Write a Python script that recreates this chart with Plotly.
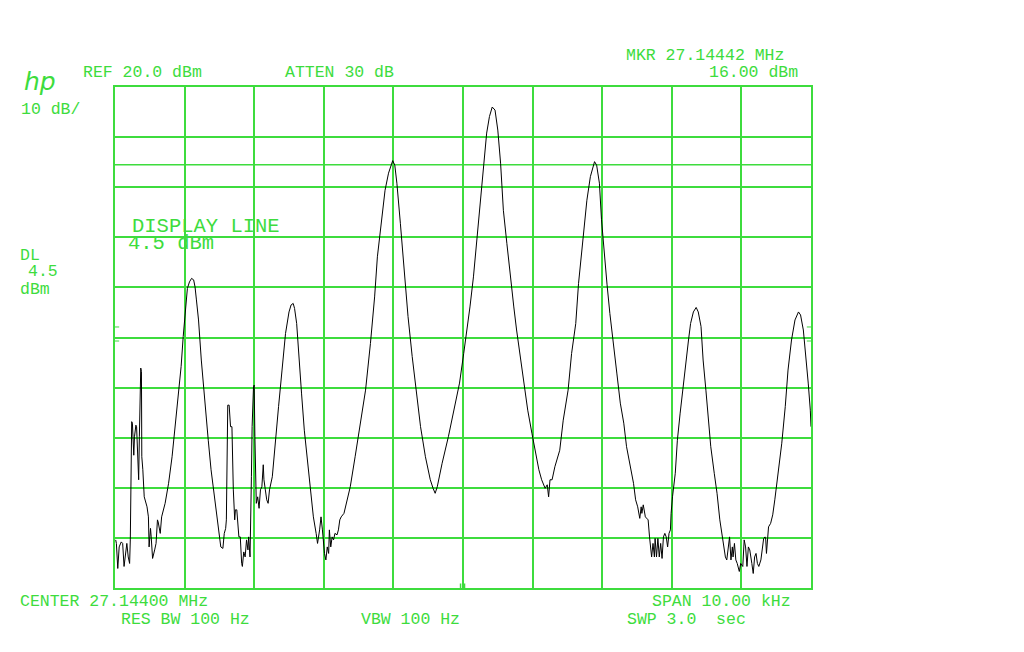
import plotly.graph_objects as go

# ---- instrument settings ----
center_mhz = 27.14400
span_khz = 10.0
ref_dbm = 20.0
db_per_div = 10.0
display_line_dbm = 4.5
marker_mhz = 27.14442
marker_dbm = 16.00

# ---- trace: frequency offset from centre (kHz) and level (dBm) ----
offset_khz = [
    -4.99, -4.98, -4.96, -4.94, -4.91, -4.89, -4.87, -4.85, -4.83, -4.81, -4.79, -4.78,
    -4.77, -4.76, -4.75, -4.73, -4.72, -4.70, -4.69, -4.67, -4.66, -4.65, -4.64, -4.63,
    -4.62, -4.615, -4.60, -4.58, -4.54, -4.52, -4.51, -4.49, -4.48, -4.46, -4.43, -4.41,
    -4.39, -4.38, -4.35, -4.33, -4.28, -4.23, -4.18, -4.14, -4.09, -4.05, -4.02, -4.00,
    -3.98, -3.96, -3.93, -3.90, -3.87, -3.85, -3.83, -3.80, -3.76, -3.73, -3.70, -3.66,
    -3.62, -3.57, -3.53, -3.50, -3.48, -3.45, -3.43, -3.41, -3.40, -3.38, -3.36, -3.34,
    -3.32, -3.30, -3.28, -3.27, -3.25, -3.22, -3.20, -3.18, -3.17, -3.15, -3.13, -3.11,
    -3.09, -3.08, -3.06, -3.04, -3.03, -3.01, -3.00, -2.99, -2.97, -2.95, -2.93, -2.91,
    -2.89, -2.87, -2.86, -2.84, -2.82, -2.80, -2.78, -2.74, -2.70, -2.65, -2.60, -2.55,
    -2.50, -2.47, -2.44, -2.42, -2.39, -2.36, -2.32, -2.28, -2.23, -2.18, -2.15, -2.11,
    -2.09, -2.06, -2.04, -2.02, -1.99, -1.97, -1.95, -1.93, -1.92, -1.90, -1.88, -1.86,
    -1.84, -1.81, -1.79, -1.77, -1.75, -1.71, -1.68, -1.64, -1.62, -1.55, -1.48, -1.40,
    -1.33, -1.27, -1.23, -1.18, -1.12, -1.07, -1.03, -1.01, -0.98, -0.95, -0.90, -0.84,
    -0.79, -0.73, -0.67, -0.61, -0.54, -0.47, -0.43, -0.40, -0.37, -0.30, -0.21, -0.13,
    -0.05, 0.01, 0.06, 0.10, 0.15, 0.20, 0.25, 0.30, 0.34, 0.38, 0.42, 0.46,
    0.50, 0.54, 0.58, 0.63, 0.68, 0.73, 0.77, 0.82, 0.87, 0.93, 0.99, 1.04,
    1.09, 1.13, 1.18, 1.21, 1.23, 1.25, 1.28, 1.32, 1.39, 1.44, 1.51, 1.56,
    1.62, 1.66, 1.72, 1.78, 1.83, 1.87, 1.89, 1.92, 1.96, 1.99, 2.02, 2.07,
    2.11, 2.16, 2.21, 2.26, 2.31, 2.35, 2.40, 2.45, 2.48, 2.51, 2.54, 2.56,
    2.57, 2.59, 2.62, 2.64, 2.66, 2.68, 2.70, 2.71, 2.73, 2.75, 2.76, 2.78,
    2.80, 2.82, 2.84, 2.86, 2.88, 2.90, 2.92, 2.94, 2.96, 2.98, 2.99, 3.01,
    3.05, 3.08, 3.12, 3.16, 3.20, 3.24, 3.27, 3.31, 3.35, 3.38, 3.42, 3.45,
    3.49, 3.53, 3.56, 3.61, 3.65, 3.69, 3.73, 3.77, 3.79, 3.81, 3.83, 3.85,
    3.87, 3.88, 3.90, 3.92, 3.94, 3.97, 3.99, 4.02, 4.04, 4.06, 4.08, 4.10,
    4.12, 4.15, 4.17, 4.19, 4.21, 4.23, 4.25, 4.28, 4.30, 4.32, 4.34, 4.35,
    4.36, 4.39, 4.42, 4.45, 4.48, 4.53, 4.58, 4.63, 4.67, 4.72, 4.77, 4.82,
    4.85, 4.89, 4.93, 4.96, 4.99, 5.00,
]
level_dbm = [
    -70.4, -71.1, -76.1, -71.8, -70.8, -71.1, -75.7, -73.1, -71.1, -73.8, -75.1, -70.4,
    -49.5, -46.8, -47.1, -53.5, -49.8, -47.5, -47.8, -57.1, -58.4, -49.8, -36.5, -36.1,
    -36.8, -53.8, -56.4, -61.8, -63.8, -65.8, -71.8, -68.1, -69.8, -74.1, -72.4, -71.1,
    -66.4, -66.8, -69.1, -65.8, -63.1, -59.1, -53.8, -48.5, -41.8, -35.8, -29.8, -26.5,
    -23.2, -20.2, -18.9, -18.2, -18.5, -19.9, -22.5, -26.5, -34.5, -39.8, -45.1, -50.5,
    -56.4, -61.8, -66.4, -69.8, -71.8, -72.1, -69.1, -68.1, -66.4, -43.5, -43.5, -47.8,
    -47.8, -60.4, -66.4, -64.4, -64.4, -69.8, -69.8, -75.1, -75.7, -72.8, -73.8, -70.4,
    -72.4, -69.8, -73.8, -57.8, -47.8, -39.8, -39.5, -49.8, -63.1, -61.8, -64.1, -60.4,
    -59.8, -55.4, -58.4, -60.4, -62.4, -63.1, -60.4, -57.8, -51.1, -43.8, -36.5, -29.2,
    -24.9, -23.5, -23.2, -24.2, -27.2, -33.8, -41.1, -48.5, -55.1, -61.8, -65.8, -69.1,
    -71.1, -68.4, -65.8, -68.4, -73.1, -74.4, -71.8, -73.1, -68.4, -71.8, -69.8, -70.4,
    -69.1, -69.4, -68.4, -66.4, -65.8, -65.1, -63.1, -61.1, -59.8, -53.8, -47.8, -40.5,
    -31.2, -21.9, -13.9, -7.2, -0.6, 2.8, 4.8, 5.3, 4.4, 0.8, -7.2, -17.2,
    -25.8, -33.8, -40.5, -47.8, -53.8, -58.4, -60.1, -61.1, -59.8, -55.1, -49.8, -44.5,
    -39.1, -33.2, -28.5, -23.9, -17.9, -10.5, -2.6, 4.8, 10.8, 14.1, 16.0, 15.4,
    11.4, 4.8, -4.6, -11.2, -17.9, -23.9, -28.5, -33.8, -39.1, -44.5, -49.1, -53.1,
    -56.4, -58.4, -60.1, -59.4, -61.8, -58.4, -58.4, -55.8, -52.5, -46.5, -40.5, -33.2,
    -27.2, -19.2, -10.5, -2.6, 2.1, 4.4, 5.1, 4.4, 0.8, -6.5, -11.9, -19.5,
    -25.2, -31.8, -37.1, -43.1, -47.1, -51.8, -55.8, -59.1, -62.4, -63.8, -66.1, -63.8,
    -65.1, -63.4, -65.8, -66.1, -66.4, -69.8, -71.8, -73.8, -71.1, -73.8, -70.1, -73.8,
    -70.1, -73.8, -71.1, -74.1, -69.8, -69.1, -69.8, -71.8, -69.1, -68.4, -65.1, -61.8,
    -57.1, -50.5, -45.1, -39.8, -35.2, -30.5, -27.2, -24.9, -24.0, -24.9, -27.8, -34.5,
    -40.5, -46.5, -51.8, -57.1, -61.1, -66.4, -70.4, -73.8, -74.4, -71.8, -69.8, -74.4,
    -71.8, -73.8, -71.1, -74.4, -75.1, -76.7, -75.1, -75.7, -70.4, -71.8, -75.7, -71.8,
    -72.4, -75.1, -77.1, -73.8, -73.1, -75.1, -75.7, -74.4, -71.8, -70.1, -69.8, -70.4,
    -73.1, -67.8, -67.1, -65.4, -62.4, -57.1, -51.1, -43.8, -36.5, -30.5, -26.5, -24.9,
    -25.5, -28.5, -33.8, -39.1, -44.5, -47.8,
]

# small reference ticks on the graticule edges (dBm) and marker ticks (kHz offset)
edge_tick_dbm = [-27.9, -30.7]
marker_tick_khz = [-0.035, 0.022]

GREEN = "#3ddc3d"
FONT = "Liberation Mono, Courier New, monospace"

freq_mhz = [center_mhz + k / 1000.0 for k in offset_khz]
f_lo = center_mhz - span_khz / 2000.0
f_hi = center_mhz + span_khz / 2000.0
bottom_dbm = ref_dbm - 10 * db_per_div

fig = go.Figure()
fig.add_trace(go.Scatter(
    x=freq_mhz, y=level_dbm, mode="lines",
    line=dict(color="black", width=1),
    hovertemplate="%{x:.5f} MHz<br>%{y:.1f} dBm<extra></extra>",
    showlegend=False,
))

# the page body has an 8 px margin, so the figure is laid out 8 px smaller
OFF = 8
W, H = 1024 - OFF, 652 - OFF
L, T = 115 - OFF, 87 - OFF
pw, ph = 696, 501
R, B = W - L - pw, H - T - ph


def px(x, y):
    # reference-window pixel -> paper coordinates
    return (x - OFF - L) / pw, (T + ph - (y - OFF)) / ph


shapes = [
    dict(type="line", xref="paper", yref="y", x0=0, x1=1,
         y0=display_line_dbm, y1=display_line_dbm,
         line=dict(color=GREEN, width=1.5), layer="below"),
]
for v in edge_tick_dbm:
    shapes.append(dict(type="line", xref="paper", yref="y", x0=0, x1=0.006, y0=v, y1=v,
                       line=dict(color=GREEN, width=1)))
    shapes.append(dict(type="line", xref="paper", yref="y", x0=0.994, x1=1, y0=v, y1=v,
                       line=dict(color=GREEN, width=1)))
for k in marker_tick_khz:
    xm = center_mhz + k / 1000.0
    shapes.append(dict(type="line", xref="x", yref="y", x0=xm, x1=xm,
                       y0=bottom_dbm, y1=bottom_dbm + 0.9,
                       line=dict(color=GREEN, width=1.5)))

annos = []


def label(text, x, y, size=16.5, anchor="left"):
    xp, yp = px(x - 1 if anchor == "left" else x + 1, y)
    annos.append(dict(text=text, x=xp, y=yp, xref="paper", yref="paper",
                      xanchor=anchor, yanchor="middle", showarrow=False,
                      font=dict(family=FONT, size=size, color=GREEN)))


label("REF %.1f dBm" % ref_dbm, 82, 73)
label("ATTEN 30 dB", 284, 73)
label("MKR %.5f MHz" % marker_mhz, 625, 55)
label("%.2f dBm" % marker_dbm, 799, 73, anchor="right")
label("%d dB/" % db_per_div, 20, 109)
label("DL", 19, 255)
label("4.5", 27, 271)
label("dBm", 19, 289)
label("DISPLAY LINE", 131, 226, size=20.5)
label("4.5 dBm", 127, 244, size=20.5)
label("CENTER %.5f MHz" % center_mhz, 19, 601)
label("SPAN %.2f kHz" % span_khz, 651, 601)
label("RES BW 100 Hz", 120, 619)
label("VBW 100 Hz", 360, 619)
label("SWP 3.0&nbsp;&nbsp;sec", 626, 619)

xp, yp = px(22, 82)
annos.append(dict(text="<i>hp</i>", x=xp, y=yp, xref="paper", yref="paper",
                  xanchor="left", yanchor="middle", showarrow=False,
                  font=dict(family="DejaVu Sans, sans-serif", size=25, color=GREEN)))

axis_common = dict(showgrid=True, gridcolor=GREEN, gridwidth=1.5, showticklabels=False,
                   ticks="", zeroline=False, showline=True, linecolor=GREEN, linewidth=1.5,
                   mirror=True)

fig.update_layout(
    width=W, height=H,
    margin=dict(l=L, r=R, t=T, b=B, pad=0),
    paper_bgcolor="white", plot_bgcolor="white",
    xaxis=dict(range=[f_lo, f_hi], tick0=f_lo, dtick=span_khz / 10 / 1000.0, **axis_common),
    yaxis=dict(range=[bottom_dbm, ref_dbm], tick0=bottom_dbm, dtick=db_per_div, **axis_common),
    shapes=shapes,
    annotations=annos,
    showlegend=False,
)

fig.write_html("out.html")
